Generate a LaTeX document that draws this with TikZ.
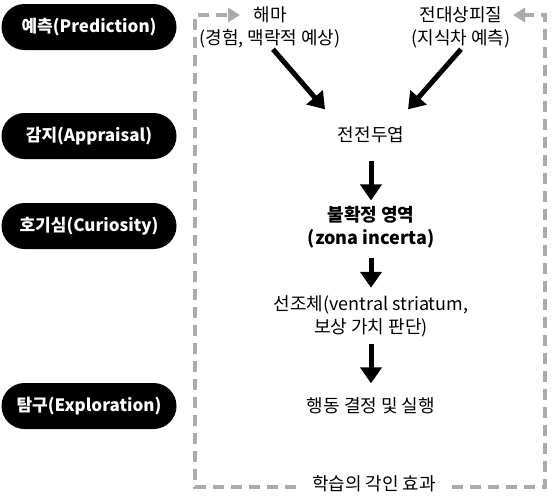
\documentclass[tikz,border=0pt]{standalone}
\usepackage{fontspec}
\setmainfont{Noto Sans CJK KR}
\usetikzlibrary{arrows.meta}

\definecolor{gris}{HTML}{ABABAB}

\begin{document}
\begin{tikzpicture}[x=1pt, y=-1pt,
    etapa/.style={fill=black, text=white, font=\fontsize{17}{20}\selectfont\bfseries,
      rounded corners=23pt, minimum width=175pt, minimum height=46pt, inner sep=0pt},
    area/.style={align=center, font=\fontsize{18}{23}\selectfont},
    flecha/.style={line width=5pt, -{Triangle[length=16pt,width=21pt]}},
    retro/.style={draw=gris, line width=4pt, dash pattern=on 11pt off 7pt,
      -{Triangle[length=12pt,width=14pt]}}]
    \useasboundingbox (0,0) rectangle (553,501);

    % Etapas (columna izquierda)
    \node[etapa] (pred) at (89,27) {예측(Prediction)};
    \node[etapa] (apr) at (89,136) {감지(Appraisal)};
    \node[etapa] (cur) at (89,226) {호기심(Curiosity)};
    \node[etapa] (expl) at (89,406) {탐구(Exploration)};

    % Areas cerebrales
    \node[area] (hip) at (270,27) {해마\\(경험, 맥락적 예상)};
    \node[area] (acc) at (461,27) {전대상피질\\(지식차 예측)};
    \node[area] (pfc) at (371,135) {전전두엽};
    \node[area, font=\fontsize{18}{23}\selectfont\bfseries] (zi) at (371,227) {불확정 영역\\(zona incerta)};
    \node[area] (str) at (371,316) {선조체(ventral striatum,\\보상 가치 판단)};
    \node[area] (act) at (371,406) {행동 결정 및 실행};
    \node[area, inner xsep=16pt] (learn) at (374,484) {학습의 각인 효과};

    % Flechas principales
    \draw[flecha] ([xshift=3pt,yshift=2pt]hip.south) -- ([xshift=-46pt,yshift=14pt]pfc.north);
    \draw[flecha] ([xshift=0pt,yshift=2pt]acc.south) -- ([xshift=37pt,yshift=14pt]pfc.north);
    \draw[flecha] ([yshift=-14pt]pfc.south) -- ([yshift=2pt]zi.north);
    \draw[flecha] ([yshift=-6pt]zi.south) -- ([yshift=4pt]str.north);
    \draw[flecha] ([yshift=-4pt]str.south) -- ([yshift=11pt]act.north);

    % Retroalimentacion (linea discontinua)
    \coordinate (esqII) at (195,487);
    \coordinate (esqSI) at (195,15);
    \coordinate (esqID) at (545,487);
    \coordinate (esqSD) at (545,15);
    \coordinate (hipIn) at (240,15);
    \coordinate (accIn) at (513,15);
    \draw[retro] (learn.west |- esqII) -- (esqII) -- (esqSI) -- (hipIn);
    \draw[retro] (learn.east |- esqID) -- (esqID) -- (esqSD) -- (accIn);
\end{tikzpicture}
\end{document}
